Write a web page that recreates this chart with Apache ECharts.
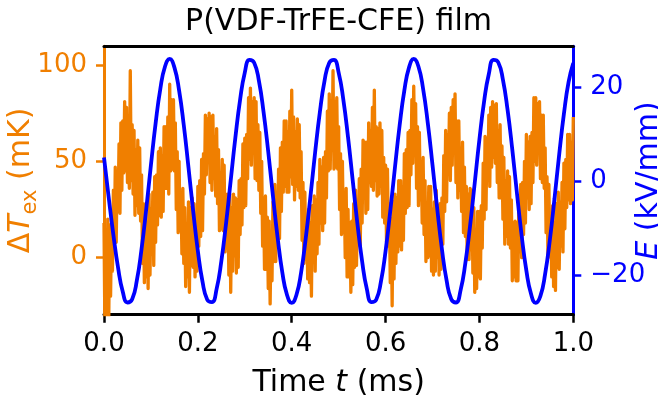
<!DOCTYPE html>
<html>
<head>
<meta charset="utf-8">
<script src="https://cdn.jsdelivr.net/npm/echarts@6/dist/echarts.min.js"></script>
<style>
html,body{margin:0;padding:0;background:#fff;}
#chart{width:658px;height:401px;}
</style>
</head>
<body>
<div id="chart"></div>
<script>
// ---- data ----
const titleText = 'P(VDF-TrFE-CFE) film';
const xTicks = [0, 0.2, 0.4, 0.6, 0.8, 1.0];
const leftTicks = [0, 50, 100];
const rightTicks = [-20, 0, 20];

// Electric field E (kV/mm), sampled every 0.01 ms from t = 0
const fieldStep = 0.01;
const fieldE = [5.0,-3.5,-11.5,-18.5,-23.6,-25.9,-25.2,-21.2,-14.5,-6.0,
3.4,12.3,19.6,24.4,26.0,24.2,19.3,11.9,2.9,-6.4,
-14.9,-21.5,-25.3,-25.8,-23.0,-17.1,-9.1,0.1,9.3,17.3,
23.1,25.8,25.2,21.4,14.7,6.2,-3.2,-12.1,-19.5,-24.3,
-26.0,-24.3,-19.5,-12.1,-3.2,6.2,14.7,21.4,25.2,25.8,
23.1,17.3,9.3,0.1,-9.1,-17.1,-23.0,-25.8,-25.3,-21.5,
-14.9,-6.4,2.9,11.9,19.3,24.2,26.0,24.4,19.6,12.3,
3.4,-5.9,-14.5,-21.2,-25.2,-25.9,-23.2,-17.5,-9.6,-0.4,
8.9,17.0,22.8,25.8,25.3,21.6,15.1,6.7,-2.7,-11.7,
-19.1,-24.1,-26.0,-24.5,-19.8,-12.6,-3.7,5.7,14.3,21.1,
25.1];

// Temperature change ΔT_ex (mK), sampled every 0.002 ms from t = 0
const tempStep = 0.002;
const tempDT = [18,-40,10,-38,20,
-36,17,-20,16,-7,35,5,47,8,45,24,59,23,70,35,71,44,81,45,78,39,69,36,97,40,69,33,66,22,56,27,61,23,57,19,43,-3,28,-13,25,-10,13,-16,
33,-9,25,2,34,-4,42,8,43,17,55,22,57,21,53,24,68,36,68,36,73,33,90,45,82,46,82,45,70,25,55,13,50,14,34,2,36,-3,26,-15,17,-10,29,-18,
26,-4,31,-5,28,-10,22,-7,37,6,40,11,51,14,54,33,74,43,72,51,75,39,73,35,74,41,63,32,67,28,56,14,44,15,51,14,48,3,33,5,33,-9,33,
-18,26,-7,33,1,31,-8,30,-5,40,12,41,17,59,26,62,27,64,41,83,51,88,48,81,55,83,41,81,40,69,35,65,23,50,6,31,-6,32,-6,21,-16,19,-24,
13,-12,29,-2,38,-2,34,13,46,10,57,24,60,34,71,37,71,34,65,34,76,42,87,38,73,30,65,37,72,35,69,31,55,9,39,-3,34,-1,20,-11,25,-13,18,-20,
27,-2,32,-7,30,2,39,7,51,18,47,14,52,18,55,31,76,45,85,46,79,56,97,46,81,47,83,46,68,25,54,12,50,13,34,0,36,-10,25,-10,18,-18,19,
-14,28,-5,35,-4,30,9,41,6,46,18,61,31,60,23,60,25,70,39,66,37,78,35,87,40,68,32,67,33,70,37,66,21,52,18,48,8,46,6,28,-13,20,-25,
29,-11,33,-3,31,3,40,6,40,4,37,9,54,23,56,26,65,27,66,43,82,49,89,53,80,36,68,27,65,30,50,18,52,12,40,-2,28,0,37,1,37,-7,25,-9,
29,-7,35,0,27,-9,28,-6,31,7,53,24,66,29,64,44,75,40,78,48,82,54,85,39,71,31,71,35,57,24,60,13,47,11,37,-1,33,-1,36,4,35,-8,26,
-18,11,-16,24,-10,24,-11,27,5,49,20,63,25,62,40,74,37,78,47,81,52,79,49,80,39,66,31,69,31,58,20,52,7,40,11,45,7,42,5,30,-12,18,-10,19,
-12,18,-12,30,3,38,0,39,12,50,18,64,31,60,25,63,28,65,39,83,50,83,48,80,55,81,41,74,39,74,36,57,13,42,0,38,1,23,-10,27,-15,18,-17,
28,-5,34,-6,29,6,39,3,49,15,51,26,64,30,64,28,60,30,73];

// ---- styling ----
const ORANGE = '#f07f00';
const BLUE = '#0000ff';
const FONT = 'DejaVu Sans';

const fieldData = fieldE.map((v, i) => [+(i * fieldStep).toFixed(4), v]);
const tempData = tempDT.map((v, i) => [+(i * tempStep).toFixed(4), v]);

const chart = echarts.init(document.getElementById('chart'), null, {renderer: 'canvas'});
const minus = v => (v < 0 ? '\u2212' + Math.abs(v) : String(v));

chart.setOption({
  animation: false,
  backgroundColor: '#fff',
  grid: {left: 104, right: 84.7, top: 46.3, bottom: 86.3, containLabel: false, outerBoundsMode: 'none'},
  graphic: [{
    type: 'text', x: 338.5, y: 22.5, z: 100,
    style: {text: titleText, fill: '#000', font: '30px "DejaVu Sans"', textAlign: 'center', textVerticalAlign: 'middle'}
  }],
  xAxis: [{
    type: 'value', min: 0, max: 1, interval: 0.2, position: 'bottom',
    name: '{a|Time }{b|t}{a| (ms)}', nameLocation: 'middle', nameGap: 54, nameMoveOverlap: false,
    nameTextStyle: {color: '#000', fontFamily: FONT, fontSize: 30,
      rich: {a: {fontFamily: FONT, fontSize: 30, color: '#000'}, b: {fontFamily: FONT, fontSize: 30, fontStyle: 'italic', color: '#000'}}},
    axisLine: {show: true, onZero: false, lineStyle: {color: '#000', width: 3}},
    axisTick: {show: true, length: 8, inside: false, lineStyle: {color: '#000', width: 2.5}},
    axisLabel: {show: true, margin: 17, color: '#000', fontFamily: FONT, fontSize: 26, formatter: v => v.toFixed(1)},
    splitLine: {show: false}
  }, {
    type: 'value', min: 0, max: 1, position: 'top',
    axisLine: {show: true, onZero: false, lineStyle: {color: '#000', width: 3}},
    axisTick: {show: false}, axisLabel: {show: false}, splitLine: {show: false}
  }],
  yAxis: [{
    type: 'value', min: -29.6, max: 109.7, position: 'left',
    name: '{d|Δ}{t|T}{s|ex}{d| (mK)}', nameLocation: 'middle', nameGap: 63, nameRotate: 90, nameMoveOverlap: false,
    nameTextStyle: {color: ORANGE, fontFamily: FONT, fontSize: 30,
      rich: {
        d: {fontFamily: FONT, fontSize: 30, color: ORANGE, lineHeight: 40, verticalAlign: 'middle'},
        t: {fontFamily: FONT, fontSize: 30, color: ORANGE, fontStyle: 'italic', lineHeight: 40, verticalAlign: 'middle'},
        s: {fontFamily: FONT, fontSize: 21, color: ORANGE, lineHeight: 21, verticalAlign: 'bottom'}
      }},
    axisLine: {show: true, onZero: false, lineStyle: {color: ORANGE, width: 3}},
    axisTick: {show: true, length: 8, inside: false, customValues: leftTicks, lineStyle: {color: ORANGE, width: 2.5}},
    axisLabel: {show: true, margin: 17, color: ORANGE, fontFamily: FONT, fontSize: 26, customValues: leftTicks},
    splitLine: {show: false}
  }, {
    type: 'value', min: -28.5, max: 28.7, position: 'right',
    name: '{i|E}{n| (kV/mm)}', nameLocation: 'middle', nameGap: 61, nameRotate: 90, nameMoveOverlap: false,
    nameTextStyle: {color: BLUE, fontFamily: FONT, fontSize: 30,
      rich: {
        i: {fontFamily: FONT, fontSize: 30, color: BLUE, fontStyle: 'italic'},
        n: {fontFamily: FONT, fontSize: 30, color: BLUE}
      }},
    axisLine: {show: true, onZero: false, lineStyle: {color: BLUE, width: 3}},
    axisTick: {show: true, length: 8, inside: false, customValues: rightTicks, lineStyle: {color: BLUE, width: 2.5}},
    axisLabel: {show: true, margin: 17, color: BLUE, fontFamily: FONT, fontSize: 26, customValues: rightTicks, formatter: minus},
    splitLine: {show: false}
  }],
  series: [{
    type: 'line', name: 'dT', xAxisIndex: 0, yAxisIndex: 0, data: tempData,
    showSymbol: false, symbol: 'none', clip: true, z: 2,
    lineStyle: {color: ORANGE, width: 3.3, join: 'round'}
  }, {
    type: 'line', name: 'E', xAxisIndex: 0, yAxisIndex: 1, data: fieldData,
    showSymbol: false, symbol: 'none', smooth: true, clip: true, z: 3,
    lineStyle: {color: BLUE, width: 3.8}
  }]
});
</script>
</body>
</html>
